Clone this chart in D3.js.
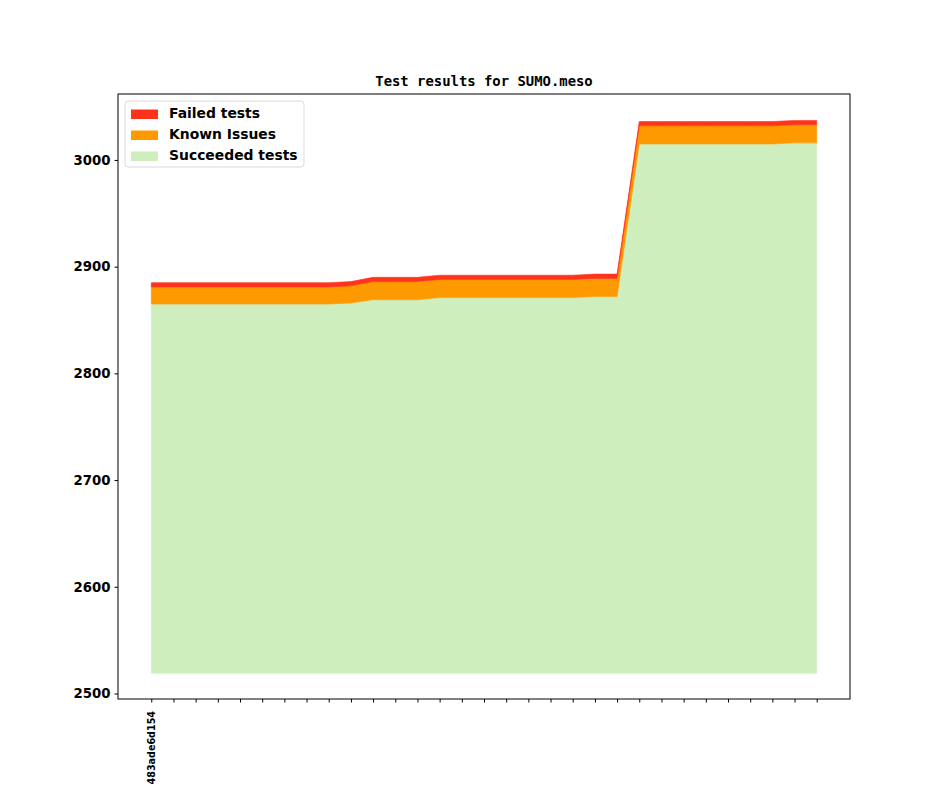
<!DOCTYPE html>
<html>
<head>
<meta charset="utf-8">
<script src="https://cdn.jsdelivr.net/npm/d3@7"></script>
<style>
  body { margin: 0; background: #fff; }
  svg { display: block; }
</style>
</head>
<body>
<div id="chart"></div>
<script>
// one entry per commit, only the first one carries a label
var commits = ["483ade6d154"];
var succeeded = [2865, 2865, 2865, 2865, 2865, 2865, 2865, 2865, 2865, 2866,
                 2869, 2869, 2869, 2871, 2871, 2871, 2871, 2871, 2871, 2871,
                 2872, 2872, 3015, 3015, 3015, 3015, 3015, 3015, 3015, 3016, 3016];
var knownIssues = [16, 16, 16, 16, 16, 16, 16, 16, 16, 16,
                   17, 17, 17, 17, 17, 17, 17, 17, 17, 17,
                   17, 17, 17, 17, 17, 17, 17, 17, 17, 17, 17];
var failed = [4, 4, 4, 4, 4, 4, 4, 4, 4, 4,
              4, 4, 4, 4, 4, 4, 4, 4, 4, 4,
              4, 4, 4, 4, 4, 4, 4, 4, 4, 4, 4];
var baseline = 2519;
var yTicks = [2500, 2600, 2700, 2800, 2900, 3000];
var seriesNames = ["Failed tests", "Known Issues", "Succeeded tests"];
var seriesColors = ["#ff331c", "#ff9900", "#ceeebe"];

var width = 944, height = 787;
var margin = {left: 118, right: 94, top: 94, bottom: 88};
var n = succeeded.length;

var svg = d3.select("#chart").append("svg")
    .attr("width", width)
    .attr("height", height);

var x = d3.scaleLinear()
    .domain([-1.5, n - 1 + 1.5])
    .range([margin.left, width - margin.right]);

var y = d3.scaleLinear()
    .domain([2495.3, 3061.8])
    .range([height - margin.bottom - 0.5, margin.top]);

// stacked rows
var rows = d3.range(n).map(function(i) {
    return {i: i, s: succeeded[i], k: knownIssues[i], f: failed[i]};
});

function layer(lo, hi, color) {
    var area = d3.area()
        .x(function(d) { return x(d.i); })
        .y0(function(d) { return y(lo(d)); })
        .y1(function(d) { return y(hi(d)); });
    svg.append("path")
        .datum(rows)
        .attr("d", area)
        .style("fill", color)
        .style("stroke", color)
        .style("stroke-width", 0.6);
}

layer(function(d) { return baseline; }, function(d) { return d.s; }, seriesColors[2]);
layer(function(d) { return d.s; }, function(d) { return d.s + d.k; }, seriesColors[1]);
layer(function(d) { return d.s + d.k; }, function(d) { return d.s + d.k + d.f; }, seriesColors[0]);

// axes
var yAxis = d3.axisLeft(y)
    .tickValues(yTicks)
    .tickFormat(d3.format("d"))
    .tickSize(3.5)
    .tickPadding(4);

var gy = svg.append("g")
    .attr("transform", "translate(" + margin.left + ",0)")
    .call(yAxis);
gy.select(".domain").remove();
gy.selectAll("text")
    .style("font-family", "DejaVu Sans")
    .style("font-weight", "bold")
    .style("font-size", "13.3px")
    .style("fill", "#000");

var xAxis = d3.axisBottom(x)
    .tickValues(d3.range(n))
    .tickSize(3.5)
    .tickFormat(function(d) { return commits[d] || ""; });

var gx = svg.append("g")
    .attr("transform", "translate(0," + (height - margin.bottom) + ")")
    .call(xAxis);
gx.select(".domain").remove();
gx.selectAll("text")
    .attr("transform", "rotate(-90)")
    .attr("x", -12)
    .attr("y", 0)
    .attr("dy", "0.35em")
    .style("text-anchor", "end")
    .style("font-family", "DejaVu Sans")
    .style("font-weight", "bold")
    .style("font-size", "9.6px")
    .style("fill", "#000");

// frame
svg.append("rect")
    .attr("x", margin.left)
    .attr("y", margin.top)
    .attr("width", width - margin.left - margin.right)
    .attr("height", height - margin.top - margin.bottom)
    .style("fill", "none")
    .style("stroke", "#000")
    .style("stroke-width", 1);

// title
svg.append("text")
    .attr("x", (margin.left + width - margin.right) / 2)
    .attr("y", 86)
    .attr("text-anchor", "middle")
    .style("font-family", "DejaVu Sans Mono")
    .style("font-weight", "bold")
    .style("font-size", "13.9px")
    .text("Test results for SUMO.meso");

// legend
var legend = svg.append("g").attr("transform", "translate(125,101)");
legend.append("rect")
    .attr("width", 179)
    .attr("height", 66)
    .attr("rx", 3)
    .style("fill", "#fff")
    .style("fill-opacity", 0.8)
    .style("stroke", "#d9d9d9")
    .style("stroke-width", 1);

seriesNames.forEach(function(name, i) {
    var g = legend.append("g").attr("transform", "translate(0," + (12.5 + i * 21) + ")");
    g.append("rect")
        .attr("x", 6)
        .attr("y", -4)
        .attr("width", 27)
        .attr("height", 9.5)
        .style("fill", seriesColors[i]);
    g.append("text")
        .attr("x", 44)
        .attr("y", 0)
        .attr("dy", "0.35em")
        .style("font-family", "DejaVu Sans")
        .style("font-weight", "bold")
        .style("font-size", "13.9px")
        .text(name);
});
</script>
</body>
</html>
